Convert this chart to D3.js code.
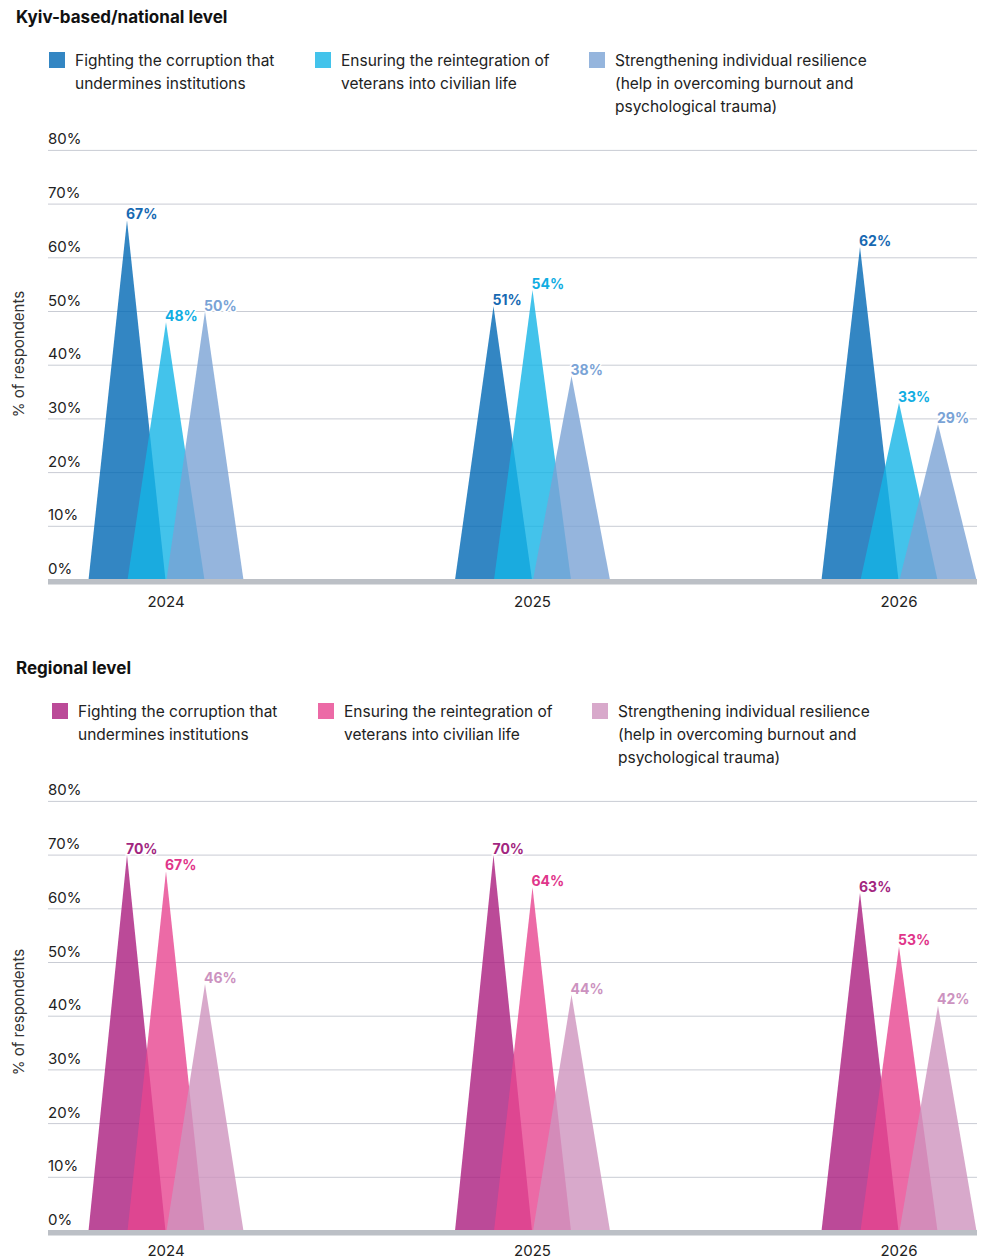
<!DOCTYPE html>
<html>
<head>
<meta charset="utf-8">
<script src="https://cdn.jsdelivr.net/npm/d3@7"></script>
<style>
  html, body { margin: 0; padding: 0; background: #fff; }
  svg { display: block; font-family: Inter, "Noto Sans", sans-serif; }
</style>
</head>
<body>
<svg id="chart" width="981" height="1258"></svg>
<script>
// Survey years along the x axis
const years = ["2024", "2025", "2026"];

// Priority themes (legend lines)
const seriesLabels = [
  ["Fighting the corruption that", "undermines institutions"],
  ["Ensuring the reintegration of", "veterans into civilian life"],
  ["Strengthening individual resilience", "(help in overcoming burnout and", "psychological trauma)"]
];

// Kyiv-based / national level, % of respondents per year
const nationalCorruption = [67, 51, 62];
const nationalVeterans   = [48, 54, 33];
const nationalResilience = [50, 38, 29];

// Regional level, % of respondents per year
const regionalCorruption = [70, 70, 63];
const regionalVeterans   = [67, 64, 53];
const regionalResilience = [46, 44, 42];

// Y axis ticks
const yTicks = [0, 10, 20, 30, 40, 50, 60, 70, 80];
const yTickLabels = ["0%", "10%", "20%", "30%", "40%", "50%", "60%", "70%", "80%"];

const panels = [
  {
    title: "Kyiv-based/national level",
    top: 0,
    axisTitleY: 354,
    yearLabelGap: 26.5,
    series: [nationalCorruption, nationalVeterans, nationalResilience],
    fills: ["#0068b4", "#14b4e6", "#7ba3d5"],
    labelColors: ["#1769b2", "#10ade2", "#7aa3d6"],
    legendX: [49, 315, 589]
  },
  {
    title: "Regional level",
    top: 651,
    axisTitleY: 361,
    yearLabelGap: 24.5,
    series: [regionalCorruption, regionalVeterans, regionalResilience],
    fills: ["#aa1d7e", "#e74590", "#ce93be"],
    labelColors: ["#a2267f", "#e0358a", "#cc92c0"],
    legendX: [52, 318, 592]
  }
];

const svg = d3.select("#chart");

const plotLeft = 48, plotRight = 977;
const x = d3.scalePoint().domain(years).range([166, 899]);
const offset = d3.scalePoint().domain([0, 1, 2]).range([-39, 39]);
const halfWidth = 38.5;

panels.forEach(p => {
  const g = svg.append("g").attr("transform", `translate(0,${p.top})`);
  const baseY = 580;
  const y = d3.scaleLinear().domain([0, 80]).range([baseY, baseY - 429.6]);

  // Title
  g.append("text")
    .attr("x", 16).attr("y", 23)
    .attr("font-size", 17).attr("font-weight", 700).attr("fill", "#111")
    .text(p.title);

  // Legend
  seriesLabels.forEach((lines, i) => {
    const lx = p.legendX[i];
    g.append("rect")
      .attr("x", lx).attr("y", 52).attr("width", 16).attr("height", 16)
      .attr("fill", p.fills[i]).attr("fill-opacity", 0.8);
    const t = g.append("text")
      .attr("x", lx + 26).attr("y", 66)
      .attr("font-size", 15.5).attr("fill", "#222");
    lines.forEach((ln, k) => {
      t.append("tspan").attr("x", lx + 26).attr("dy", k === 0 ? 0 : 23).text(ln);
    });
  });

  // Gridlines and tick labels
  yTicks.forEach((v, i) => {
    g.append("line")
      .attr("x1", plotLeft).attr("x2", plotRight)
      .attr("y1", y(v)).attr("y2", y(v))
      .attr("stroke", "#c9ccd4").attr("stroke-width", 1);
    g.append("text")
      .attr("x", plotLeft).attr("y", y(v) - 6)
      .attr("font-size", 15).attr("fill", "#222")
      .text(yTickLabels[i]);
  });

  // Y axis title
  g.append("text")
    .attr("transform", `translate(24,${p.axisTitleY}) rotate(-90)`)
    .attr("text-anchor", "middle")
    .attr("font-size", 15).attr("fill", "#333")
    .text("% of respondents");

  // Triangular spikes
  p.series.forEach((vals, si) => {
    years.forEach((yr, yi) => {
      const cx = x(yr) + offset(si);
      const v = vals[yi];
      g.append("path")
        .attr("d", `M${cx - halfWidth},${y(0)} L${cx},${y(v)} L${cx + halfWidth},${y(0)} Z`)
        .attr("fill", p.fills[si]).attr("fill-opacity", 0.8);
    });
  });

  // Value labels
  p.series.forEach((vals, si) => {
    years.forEach((yr, yi) => {
      const cx = x(yr) + offset(si);
      const v = vals[yi];
      g.append("text")
        .attr("x", cx - 1).attr("y", y(v) - 1)
        .attr("font-size", 14).attr("font-weight", 700)
        .attr("fill", p.labelColors[si])
        .attr("stroke", "#fff").attr("stroke-width", 3)
        .attr("paint-order", "stroke")
        .text(v + "%");
    });
  });

  // Baseline band
  g.append("rect")
    .attr("x", plotLeft).attr("y", y(0) - 1)
    .attr("width", plotRight - plotLeft).attr("height", 5.5)
    .attr("fill", "#bcc0c6");

  // Year labels
  years.forEach(yr => {
    g.append("text")
      .attr("x", x(yr)).attr("y", y(0) + p.yearLabelGap)
      .attr("text-anchor", "middle")
      .attr("font-size", 15).attr("fill", "#222")
      .text(yr);
  });
});
</script>
</body>
</html>
